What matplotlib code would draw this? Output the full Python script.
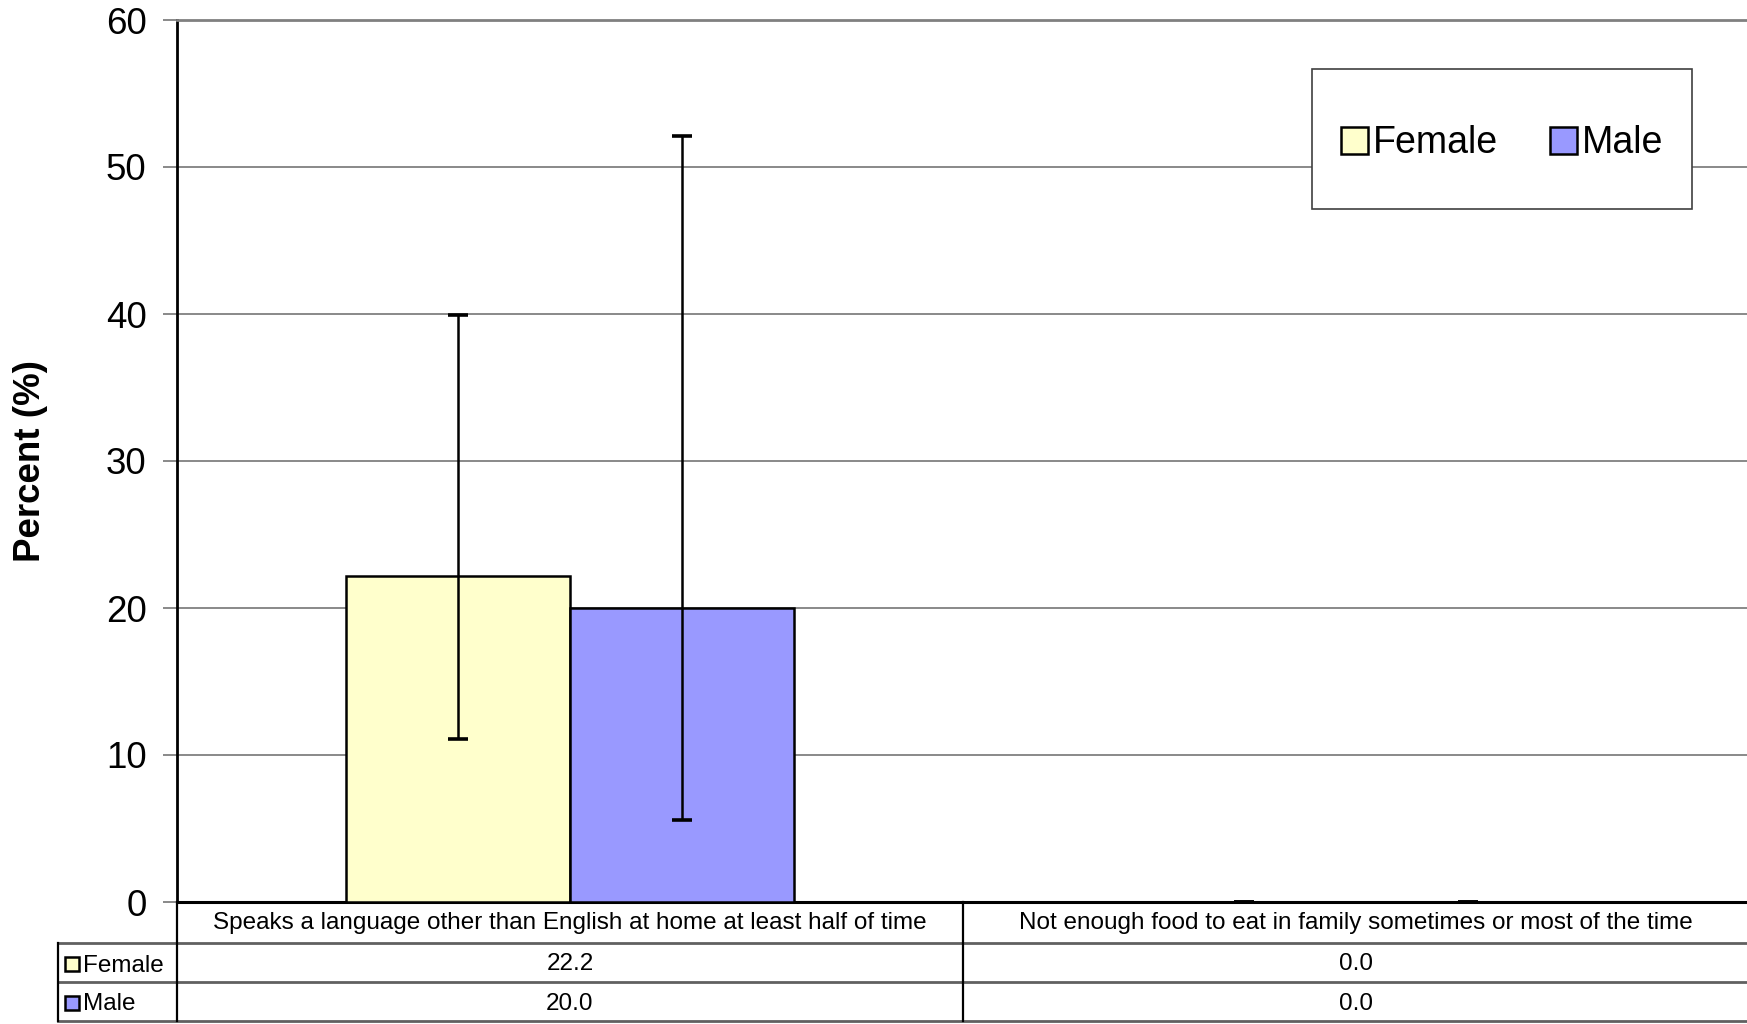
import numpy as np
import matplotlib.pyplot as plt
from matplotlib import transforms
from matplotlib.lines import Line2D
from matplotlib.patches import Rectangle

plt.rcParams['font.family'] = ['Liberation Sans', 'DejaVu Sans']

# data
categories = ['Speaks a language other than English at home at least half of time',
              'Not enough food to eat in family sometimes or most of the time']
series = ['Female', 'Male']
female = [22.2, 0.0]
male = [20.0, 0.0]
female_lo = [11.1, 0.0]
female_hi = [39.9, 0.0]
male_lo = [5.6, 0.0]
male_hi = [52.1, 0.0]
colors = ['#FFFFCC', '#9999FF']

W, H = 1747, 1024
fig = plt.figure(figsize=(W / 100, H / 100), dpi=100)
ax = fig.add_axes([177 / W, 1 - 902 / H, (W - 177) / W + 0.001, (902 - 20) / H])

x = np.arange(len(categories))
bw = 0.285
vals = [female, male]
errs = [(np.array(female) - np.array(female_lo), np.array(female_hi) - np.array(female)),
        (np.array(male) - np.array(male_lo), np.array(male_hi) - np.array(male))]
for i, (name, v, c, e) in enumerate(zip(series, vals, colors, errs)):
    pos = x + (i - 0.5) * bw
    ax.bar(pos, v, bw, color=c, edgecolor='black', linewidth=1.8, label=name, zorder=3)
    ax.errorbar(pos, v, yerr=[e[0], e[1]], fmt='none', ecolor='black',
                elinewidth=1.8, capsize=7, capthick=2.6, zorder=4, clip_on=False)

ax.set_xlim(-0.5, len(categories) - 0.5)
ax.set_ylim(0, 60)
ax.set_yticks(range(0, 61, 10))
ax.yaxis.grid(True, color='#808080', linewidth=1.3, zorder=0)
ax.set_xticks([])
ax.tick_params(axis='y', labelsize=26.5, length=10, width=1.3, color='#808080', pad=12)
for s in ['top', 'right']:
    ax.spines[s].set_color('#808080')
    ax.spines[s].set_linewidth(2)
ax.spines['left'].set_color('black')
ax.spines['left'].set_linewidth(2)
ax.spines['bottom'].set_color('black')
ax.spines['bottom'].set_linewidth(2.2)
ax.set_ylabel('Percent (%)', fontsize=26.5, fontweight='bold')
ax.yaxis.set_label_coords((48 - 177) / (W - 177), 0.5)

# legend box
lx0, ly0 = (1311 - 177) / (W - 177), 1 - (209 - 20) / 882
lw_, lh_ = (1690 - 1311) / (W - 177), (209 - 69) / 882
ax.add_patch(Rectangle((lx0, ly0), lw_, lh_, transform=ax.transAxes, facecolor='white',
                       edgecolor='#404040', lw=1.2, zorder=5))
leg = ax.legend(loc='center', bbox_to_anchor=(lx0 + lw_ / 2, ly0 + lh_ / 2 - 0.005),
                ncol=2, fontsize=27, frameon=False,
                handlelength=0.72, handleheight=0.72, handletextpad=0.12, columnspacing=1.4)
leg.set_zorder(6)

# data table under the axes
tr = transforms.blended_transform_factory(ax.transData, fig.transFigure)
def fy(p):
    return 1 - p / H
row_y = [902, 943, 982, 1021]
x0, x1 = -0.5, len(categories) - 0.5
lab_left = 58 / W
ax_left = 177 / W
lw = 1.6
for yy in row_y[1:]:
    fig.add_artist(Line2D([lab_left, 1], [fy(yy), fy(yy)], transform=fig.transFigure, color='#606060', lw=2))
fig.add_artist(Line2D([ax_left, ax_left], [fy(902), fy(1021)], transform=fig.transFigure, color='black', lw=lw))
fig.add_artist(Line2D([lab_left, lab_left], [fy(943), fy(1021)], transform=fig.transFigure, color='black', lw=lw))
for b in np.arange(x0 + 1, x1):
    fig.add_artist(Line2D([b, b], [fy(902), fy(1021)], transform=tr, color='black', lw=lw))

fs = 17.5
for j, cat in enumerate(categories):
    fig.text(x[j], fy((902 + 943) / 2 + 1), cat, transform=tr, ha='center', va='center', fontsize=fs)
    for i, v in enumerate(vals):
        fig.text(x[j], fy((row_y[i + 1] + row_y[i + 2]) / 2 + 2), f'{v[j]:.1f}', transform=tr,
                 ha='center', va='center', fontsize=fs)

for i, (name, c) in enumerate(zip(series, colors)):
    yc = (row_y[i + 1] + row_y[i + 2]) / 2
    fig.add_artist(Rectangle((65 / W, fy(yc + 8)), 14 / W, 14 / H, transform=fig.transFigure,
                             facecolor=c, edgecolor='black', lw=1.8))
    fig.text(83 / W, fy(yc + 3), name, ha='left', va='center', fontsize=fs)

fig.savefig('out.png', dpi=100)
